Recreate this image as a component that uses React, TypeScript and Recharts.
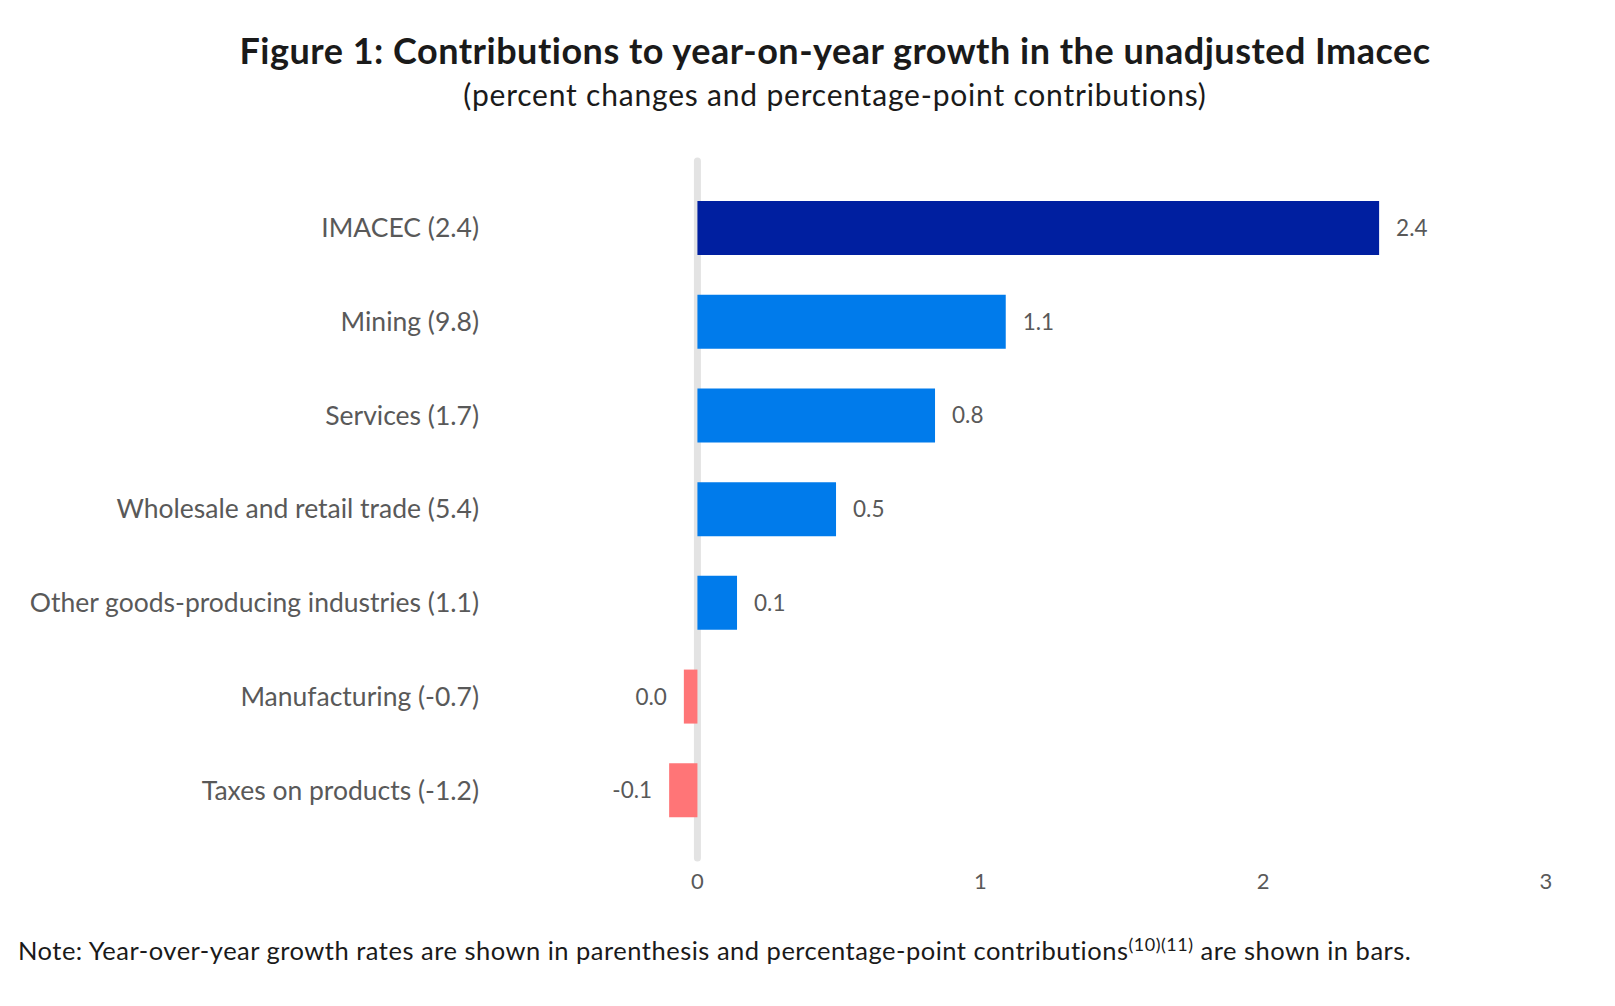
import React from 'react'
import {
  BarChart, Bar, XAxis, YAxis, Cell, LabelList, CartesianGrid,
} from 'recharts'

const categories = [
  'IMACEC',
  'Mining',
  'Services',
  'Wholesale and retail trade',
  'Other goods-producing industries',
  'Manufacturing',
  'Taxes on products',
]
const growthRates = [2.4, 9.8, 1.7, 5.4, 1.1, -0.7, -1.2]
const contributions = [2.41, 1.09, 0.84, 0.49, 0.14, -0.048, -0.1]
const xTicks = [0, 1, 2, 3]

const DARK = '#001FA0'
const BLUE = '#007BEB'
const PINK = '#FF7577'
const MUTED = '#595959'
const FONT = 'Lato, "Open Sans", sans-serif'

const chartData = categories.map((name, i) => ({
  label: `${name} (${growthRates[i].toFixed(1)})`,
  value: contributions[i],
}))

// round first so a tiny negative shows as 0.0, not -0.0
const fmt = (v: number) => (Math.round(v * 10) / 10).toFixed(1)

export default function App() {
  return (
    <div style={{ position: 'relative', width: 1599, height: 990, fontFamily: FONT }}>
      {/* Titles */}
      <div style={{
        position: 'absolute', left: 27, top: 19, width: 1600, height: 46, lineHeight: '46px',
        textAlign: 'center', fontSize: 36, letterSpacing: 0.5, fontWeight: 700, color: '#1a1a1a',
      }}>
        Figure 1: Contributions to year-on-year growth in the unadjusted Imacec
      </div>
      <div style={{
        position: 'absolute', left: 27, top: 67, width: 1600, height: 38, lineHeight: '38px',
        textAlign: 'center', fontSize: 30, letterSpacing: 0.8, color: '#1a1a1a',
      }}>
        (percent changes and percentage-point contributions)
      </div>

      <div style={{ position: 'absolute', left: 0, top: 0 }}>
        <BarChart
          width={1600}
          height={920}
          data={chartData}
          layout="vertical"
          margin={{ top: 153, right: 62, bottom: 30, left: 0 }}
          barSize={54}
        >
          {/* zero line, kept behind the bars */}
          <CartesianGrid
            horizontal={false}
            verticalValues={[0]}
            stroke="#E3E3E3"
            strokeWidth={7}
            strokeLinecap="round"
            strokeDasharray="0"
          />
          <XAxis
            type="number"
            domain={[-0.5, 3]}
            ticks={xTicks}
            axisLine={false}
            tickLine={false}
            tickSize={0}
            tickMargin={15}
            height={40}
            tick={{ fill: MUTED, fontSize: 22, fontFamily: FONT }}
          />
          <YAxis
            type="category"
            dataKey="label"
            width={548}
            axisLine={false}
            tickLine={false}
            tickSize={0}
            tickMargin={77}
            padding={{ top: 20, bottom: 21 }}
            interval={0}
            tick={{ fill: MUTED, fontSize: 26.5, fontFamily: FONT }}
          />
          <Bar dataKey="value" isAnimationActive={false}>
            {chartData.map((d, i) => (
              <Cell key={i} fill={i === 0 ? DARK : d.value < 0 ? PINK : BLUE} />
            ))}
            <LabelList
              dataKey="value"
              position="right"
              offset={17}
              formatter={(v: number) => fmt(v)}
              fill={MUTED}
              fontSize={22.5}
              fontFamily={FONT}
            />
          </Bar>
        </BarChart>
      </div>

      {/* Note */}
      <div style={{
        position: 'absolute', left: 10, top: 925, height: 34, lineHeight: '34px',
        fontSize: 25.5, letterSpacing: 0.5, color: '#1a1a1a', whiteSpace: 'nowrap',
      }}>
        Note: Year-over-year growth rates are shown in parenthesis and percentage-point contributions
        <span style={{ fontSize: 18, verticalAlign: 'super', lineHeight: 0 }}>(10)(11)</span> are shown in bars.
      </div>
    </div>
  )
}
